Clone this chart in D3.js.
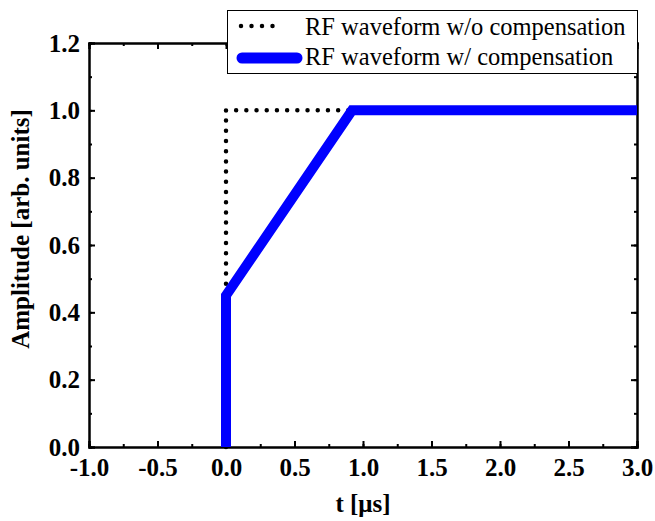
<!DOCTYPE html>
<html>
<head>
<meta charset="utf-8">
<script src="https://cdn.jsdelivr.net/npm/d3@7"></script>
<style>
  body { margin: 0; background: #fff; }
</style>
</head>
<body>
<div id="chart"></div>
<script>
// data
const xTicks = [-1.0, -0.5, 0.0, 0.5, 1.0, 1.5, 2.0, 2.5, 3.0];
const yTicks = [0.0, 0.2, 0.4, 0.6, 0.8, 1.0, 1.2];
const noCompT = [0, 0, 3];
const noCompA = [0, 1, 1];
const compT = [0, 0, 0.92, 3];
const compA = [0, 0.45, 1, 1];
const seriesNames = ["RF waveform w/o compensation", "RF waveform w/ compensation"];

const width = 655, height = 521;
const margin = { top: 43, right: 18, bottom: 74, left: 89 };
const serif = '"Liberation Serif", "Times New Roman", serif';
const fmt = d => d.toFixed(1); // plain hyphen minus like the original

const svg = d3.select("#chart").append("svg")
  .attr("width", width).attr("height", height);

const x = d3.scaleLinear().domain([-1, 3]).range([margin.left, width - margin.right]);
const y = d3.scaleLinear().domain([0, 1.2]).range([height - margin.bottom, margin.top]);

const minorX = d3.range(-1, 3.001, 0.25);
const minorY = d3.range(0, 1.201, 0.1);

// frame with inward ticks on all four sides
svg.append("g").attr("transform", `translate(0,${y(0)})`)
  .call(d3.axisBottom(x).tickValues(minorX).tickSize(-3).tickFormat(""));
const bottomMajor = svg.append("g").attr("transform", `translate(0,${y(0)})`)
  .call(d3.axisBottom(x).tickValues(xTicks).tickSize(-6).tickPadding(11).tickFormat(fmt));
bottomMajor.selectAll("text")
  .style("font-family", serif).style("font-size", "25px").style("font-weight", "bold")
  .attr("fill", "#000").attr("dy", "0.71em");

svg.append("g").attr("transform", `translate(0,${y(1.2)})`)
  .call(d3.axisTop(x).tickValues(minorX).tickSize(-3).tickFormat(""));
svg.append("g").attr("transform", `translate(0,${y(1.2)})`)
  .call(d3.axisTop(x).tickValues(xTicks).tickSize(-6).tickFormat(""));

svg.append("g").attr("transform", `translate(${x(-1)},0)`)
  .call(d3.axisLeft(y).tickValues(minorY).tickSize(-3).tickFormat(""));
const leftMajor = svg.append("g").attr("transform", `translate(${x(-1)},0)`)
  .call(d3.axisLeft(y).tickValues(yTicks).tickSize(-6).tickPadding(9).tickFormat(fmt));
leftMajor.selectAll("text")
  .style("font-family", serif).style("font-size", "25px").style("font-weight", "bold")
  .attr("fill", "#000").attr("dy", "0.33em");

svg.append("g").attr("transform", `translate(${x(3)},0)`)
  .call(d3.axisRight(y).tickValues(minorY).tickSize(-3).tickFormat(""));
svg.append("g").attr("transform", `translate(${x(3)},0)`)
  .call(d3.axisRight(y).tickValues(yTicks).tickSize(-6).tickFormat(""));

svg.selectAll(".domain").attr("stroke", "#000").attr("stroke-width", 2);
svg.selectAll(".tick line").attr("stroke", "#000").attr("stroke-width", 2);

// lines
const line = d3.line().x(d => x(d[0])).y(d => y(d[1]));

svg.append("path")
  .datum(noCompT.map((t, i) => [t, noCompA[i]]))
  .attr("d", line)
  .attr("fill", "none").attr("stroke", "#000")
  .attr("stroke-width", 4.5).attr("stroke-linecap", "round")
  .attr("stroke-dasharray", "0 10.2");

svg.append("path")
  .datum(compT.map((t, i) => [t, compA[i]]))
  .attr("d", line)
  .attr("fill", "none").attr("stroke", "#0000ff")
  .attr("stroke-width", 10);

// axis titles
svg.append("text")
  .attr("x", (x(-1) + x(3)) / 2).attr("y", 512)
  .attr("text-anchor", "middle")
  .style("font-family", serif).style("font-size", "25px").style("font-weight", "bold")
  .text("t [μs]");

svg.append("text")
  .attr("transform", "translate(29,229) rotate(-90)")
  .attr("text-anchor", "middle")
  .style("font-family", serif).style("font-size", "25px").style("font-weight", "bold")
  .text("Amplitude [arb. units]");

// legend
const leg = svg.append("g");
leg.append("rect")
  .attr("x", 227.5).attr("y", 10.5).attr("width", 410).attr("height", 63)
  .attr("fill", "#fff").attr("stroke", "#000").attr("stroke-width", 1);

leg.append("line")
  .attr("x1", 241).attr("x2", 283).attr("y1", 26).attr("y2", 26)
  .attr("stroke", "#000").attr("stroke-width", 4.5).attr("stroke-linecap", "round")
  .attr("stroke-dasharray", "0 10.5");
leg.append("line")
  .attr("x1", 242).attr("x2", 297).attr("y1", 58).attr("y2", 58)
  .attr("stroke", "#0000ff").attr("stroke-width", 11).attr("stroke-linecap", "round");

leg.selectAll("text.lab").data(seriesNames).join("text")
  .attr("class", "lab")
  .attr("x", 305).attr("y", (d, i) => 35 + i * 30)
  .style("font-family", serif).style("font-size", "24.5px")
  .text(d => d);
</script>
</body>
</html>
